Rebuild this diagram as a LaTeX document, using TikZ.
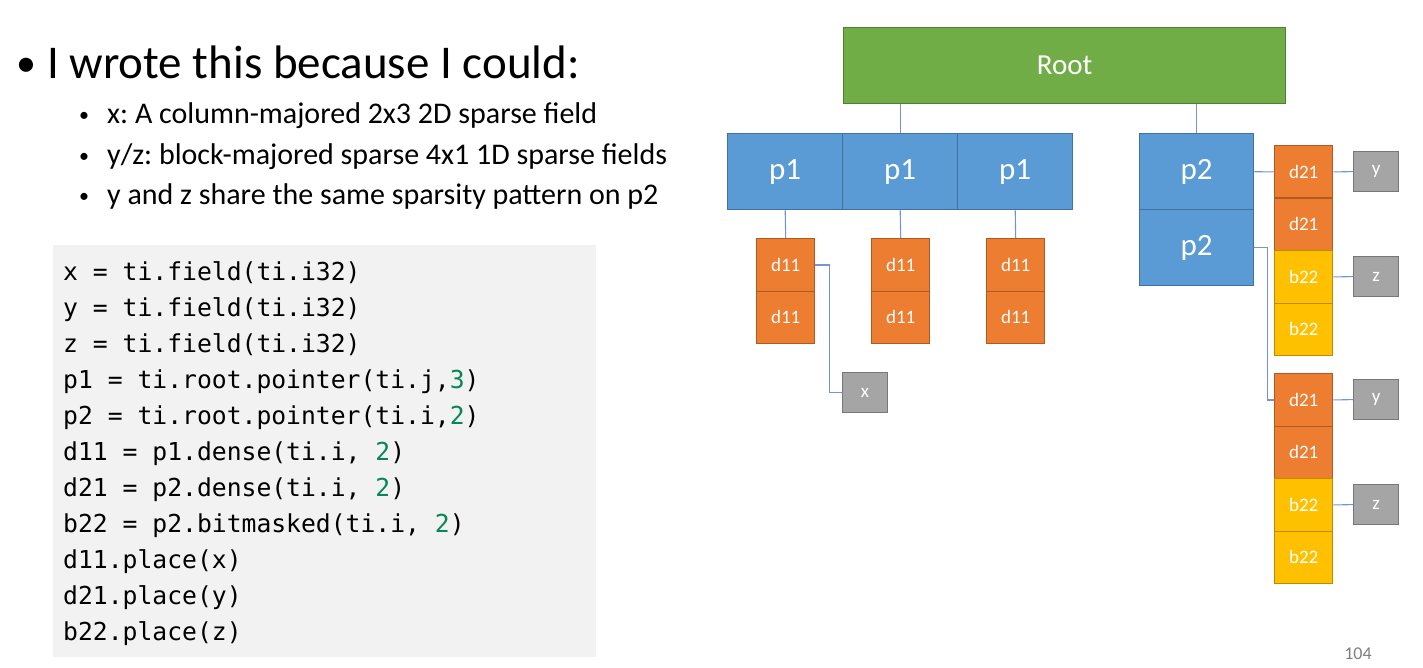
\documentclass[tikz,border=0pt]{standalone}
\usepackage{fontspec}
\setmainfont{Carlito}
\newfontfamily\codefont{DejaVu Sans Mono}
\definecolor{rootfill}{HTML}{70AD47}\definecolor{rootline}{HTML}{507E32}
\definecolor{ptrfill}{HTML}{5B9BD5}\definecolor{ptrline}{HTML}{41719C}
\definecolor{densefill}{HTML}{ED7D31}\definecolor{denseline}{HTML}{AE5A21}
\definecolor{bitfill}{HTML}{FFC000}\definecolor{bitline}{HTML}{BC8C00}
\definecolor{leaffill}{HTML}{A5A5A5}\definecolor{leafline}{HTML}{787878}
\definecolor{wire}{HTML}{7096D6}
\definecolor{codebg}{HTML}{F2F2F2}
\definecolor{numgreen}{HTML}{098658}
\definecolor{pagegray}{HTML}{7F7F7F}
\newcommand{\fs}[1]{\fontsize{#1}{#1}\selectfont}
\newcommand{\num}[1]{\textcolor{numgreen}{#1}}
\frenchspacing
\tikzset{
  cell/.style n args={2}{draw, line width=1.4pt, anchor=north west, inner sep=0pt,
    minimum width=#1, minimum height=#2, text=white},
  rootbox/.style={cell={442pt}{76pt}, fill=rootfill, draw=rootline, font=\fs{29}},
  ptrbox/.style={cell={115pt}{76pt}, fill=ptrfill, draw=ptrline, font=\fs{31}},
  densebox/.style={cell={58pt}{52.5pt}, fill=densefill, draw=denseline, font=\fs{19}},
  bitbox/.style={cell={58pt}{52.5pt}, fill=bitfill, draw=bitline, font=\fs{19}},
  leafbox/.style={cell={45pt}{40pt}, fill=leaffill, draw=leafline, line width=1.2pt, font=\fs{19}},
  wireline/.style={draw=wire, line width=1.1pt},
  codeline/.style={anchor=base west, inner sep=0pt, font=\codefont\fs{24.7}},
  subitem/.style={anchor=base west, inner sep=0pt, font=\fs{30}},
  dot/.style={anchor=base, inner sep=0pt},
}
\begin{document}
\begin{tikzpicture}[x=1pt, y=-1pt]
\useasboundingbox (0,0) rectangle (1423,668);

% ---- bullet text ----
\node[dot, font=\fs{40}] (b0) at (26,77) {•};
\node[anchor=base west, inner sep=0pt, font=\fs{47}] (title) at (47,79) {I wrote this because I could:};
\node[dot, font=\fs{20}] (b1) at (84,122) {•};
\node[dot, font=\fs{20}] (b2) at (84,163) {•};
\node[dot, font=\fs{20}] (b3) at (84,203) {•};
\node[subitem] (s1) at (107,124) {x: A column-majored 2x3 2D sparse field};
\node[subitem] (s2) at (107,165) {y/z: block-majored sparse 4x1 1D sparse fields};
\node[subitem] (s3) at (107,205) {y and z share the same sparsity pattern on p2};

% ---- code listing ----
\fill[codebg] (53,245) rectangle (596,657);
\node[codeline] (c1) at (63,280) {x = ti.field(ti.i32)};
\node[codeline] (c2) at (63,316) {y = ti.field(ti.i32)};
\node[codeline] (c3) at (63,352) {z = ti.field(ti.i32)};
\node[codeline] (c4) at (63,388) {p1 = ti.root.pointer(ti.j,\num{3})};
\node[codeline] (c5) at (63,424) {p2 = ti.root.pointer(ti.i,\num{2})};
\node[codeline] (c6) at (63,460) {d11 = p1.dense(ti.i, \num{2})};
\node[codeline] (c7) at (63,496) {d21 = p2.dense(ti.i, \num{2})};
\node[codeline] (c8) at (63,532) {b22 = p2.bitmasked(ti.i, \num{2})};
\node[codeline] (c9) at (63,568) {d11.place(x)};
\node[codeline] (c10) at (63,604) {d21.place(y)};
\node[codeline] (c11) at (63,640) {b22.place(z)};

% ---- tree ----
\node[rootbox] (root) at (843,27) {Root};
\node[ptrbox] (p1a) at (727,133) {p1};
\node[ptrbox] (p1b) at (842,133) {p1};
\node[ptrbox] (p1c) at (957,133) {p1};
\node[ptrbox, minimum width=114pt] (p2a) at (1139,133) {p2};
\node[ptrbox, minimum width=114pt] (p2b) at (1139,209) {p2};

% dense blocks under p1
\foreach \n/\x in {a/756, b/871, c/986}{
  \node[densebox] (d11\n1) at (\x,238) {d11};
  \node[densebox] (d11\n2) at (\x,290.5) {d11};
}
% blocks under p2
\node[densebox] (d21a1) at (1274,145) {d21};
\node[densebox] (d21a2) at (1274,197.5) {d21};
\node[bitbox]   (b22a1) at (1274,250) {b22};
\node[bitbox]   (b22a2) at (1274,302.5) {b22};
\node[densebox] (d21b1) at (1274,373) {d21};
\node[densebox] (d21b2) at (1274,425.5) {d21};
\node[bitbox]   (b22b1) at (1274,478) {b22};
\node[bitbox]   (b22b2) at (1274,530.5) {b22};

% places
\node[leafbox] (xleaf) at (842,372) {x};
\node[leafbox] (yleafa) at (1353,151) {y};
\node[leafbox] (zleafa) at (1353,256) {z};
\node[leafbox] (yleafb) at (1353,379) {y};
\node[leafbox] (zleafb) at (1353,484) {z};

% ---- connectors ----
\draw[wireline] (p1b.north |- root.south) -- (p1b.north);
\draw[wireline] (p2a.north |- root.south) -- (p2a.north);
\draw[wireline] (p1a.south) -- (d11a1.north);
\draw[wireline] (p1b.south) -- (d11b1.north);
\draw[wireline] (p1c.south) -- (d11c1.north);
\draw[wireline] (d11a1.east) -- ++(14,0) |- (xleaf.west);
\draw[wireline] (p2a.east) -- (d21a1.west);
\draw[wireline] (p2b.east) -- ++(13,0) |- (d21b1.west);
\draw[wireline] (d21a1.east) -- (yleafa.west);
\draw[wireline] (b22a1.east) -- (zleafa.west);
\draw[wireline] (d21b1.east) -- (yleafb.west);
\draw[wireline] (b22b1.east) -- (zleafb.west);

% page number
\node[anchor=center, inner sep=0pt, text=pagegray, font=\fs{18}] (page) at (1358,654) {104};
\end{tikzpicture}
\end{document}
